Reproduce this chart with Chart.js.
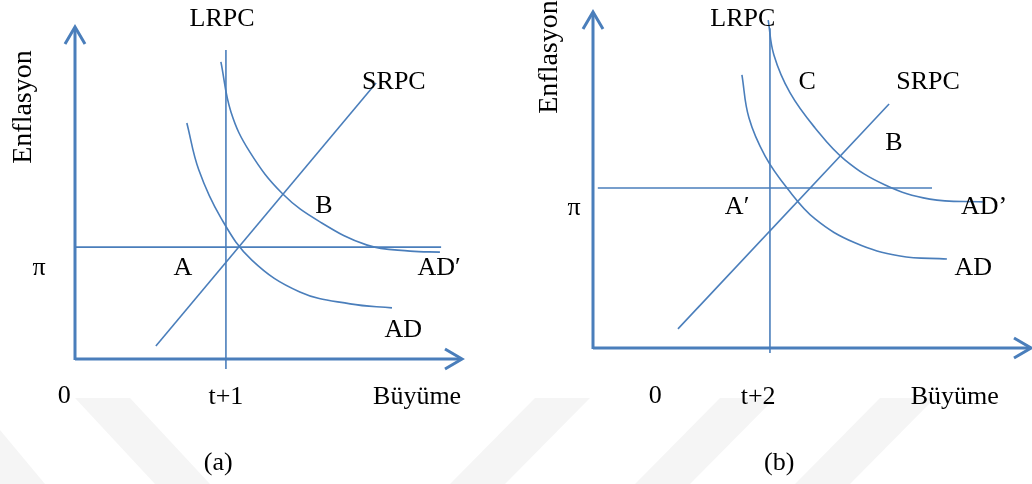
<!DOCTYPE html>
<html>
<head>
<meta charset="utf-8">
<script src="https://cdn.jsdelivr.net/npm/chart.js@4.4.1/dist/chart.umd.min.js"></script>
<style>
  body{margin:0;background:#fff;}
  #wrap{position:relative;width:1032px;height:484px;overflow:hidden;}
  .panel{position:absolute;top:0;width:516px;height:484px;}
  .band{position:absolute;left:0;top:0;width:1032px;height:484px;background:#f5f5f5;}
</style>
</head>
<body>
<div id="wrap">
  <div class="band" style="clip-path:polygon(75px 398px,130px 398px,210px 484px,155px 484px)"></div>
  <div class="band" style="clip-path:polygon(0px 430px,0px 484px,45px 484px)"></div>
  <div class="band" style="clip-path:polygon(535px 398px,590px 398px,505px 484px,450px 484px)"></div>
  <div class="band" style="clip-path:polygon(720px 398px,775px 398px,690px 484px,635px 484px)"></div>
  <div class="band" style="clip-path:polygon(880px 398px,935px 398px,850px 484px,795px 484px)"></div>
  <div class="panel" style="left:0"><canvas id="chart-a"></canvas></div>
  <div class="panel" style="left:516px"><canvas id="chart-b"></canvas></div>
</div>
<script>
const BLUE = '#4a7ebb';
const FONT = '"Liberation Serif", "Times New Roman", serif';

// panel (a): growth (x) vs inflation (y), 0..10 units
const aAdX  = [2.89,3.20,3.77,4.57,5.81,7.11,8.19];
const aAdY  = [7.11,5.69,4.25,2.98,2.02,1.66,1.54];
const aAd2X = [3.77,4.03,4.52,5.37,6.33,7.55,8.66,9.43];
const aAd2Y = [8.95,7.44,6.23,4.97,4.13,3.43,3.25,3.22];
const aSrpcX = [2.09,7.78];
const aSrpcY = [0.39,8.31];
const aLrpcX = [3.90,3.90];
const aLrpcY = [-0.30,9.31];
const aPiX = [0,9.46];
const aPiY = [3.37,3.37];

// panel (b)
const bAdX  = [3.40,3.56,3.93,4.43,5.07,5.98,7.01,8.08];
const bAdY  = [8.13,6.85,5.71,4.76,3.84,3.13,2.74,2.65];
const bAd2X = [4.00,4.13,4.50,5.07,5.75,6.67,7.69,8.90];
const bAd2Y = [9.76,8.72,7.59,6.55,5.60,4.85,4.43,4.35];
const bSrpcX = [1.94,6.76];
const bSrpcY = [0.57,7.26];
const bLrpcX = [4.04,4.04];
const bLrpcY = [-0.15,9.52];
const bPiX = [0.11,7.74];
const bPiY = [4.76,4.76];

// text labels (in data units)
const aLabels = [
  {t:'LRPC', x:3.80, y:10.24}, {t:'SRPC', x:8.24, y:8.34}, {t:'B', x:6.43, y:4.61},
  {t:'A', x:2.79, y:2.74}, {t:'π', x:-0.93, y:2.74}, {t:'AD′', x:9.41, y:2.74},
  {t:'AD', x:8.48, y:0.87}, {t:'0', x:-0.28, y:-1.11}, {t:'t+1', x:3.90, y:-1.14},
  {t:'Büyüme', x:8.84, y:-1.14}, {t:'(a)', x:3.70, y:-3.13},
  {t:'Enflasyon', x:-1.34, y:7.59, rot:true}
];
const bLabels = [
  {t:'LRPC', x:3.42, y:9.79}, {t:'C', x:4.89, y:7.92}, {t:'SRPC', x:7.65, y:7.92},
  {t:'B', x:6.87, y:6.10}, {t:'π', x:-0.43, y:4.17}, {t:'A′', x:3.29, y:4.20},
  {t:'AD’', x:8.93, y:4.20}, {t:'AD', x:8.68, y:2.38}, {t:'0', x:1.42, y:-1.43},
  {t:'t+2', x:3.77, y:-1.46}, {t:'Büyüme', x:8.26, y:-1.46}, {t:'(b)', x:4.25, y:-3.42},
  {t:'Enflasyon', x:-0.98, y:8.66, rot:true}
];

const pts = (xs, ys) => xs.map((x,i)=>({x, y:ys[i]}));

function line(data, curve){
  return {data, borderColor:BLUE, borderWidth:1.6, pointRadius:0, showLine:true,
    fill:false, clip:false, tension: curve ? 0.4 : 0};
}

const diagram = {
  id:'diagram',
  beforeDatasetsDraw(chart){
    const {ctx, scales:{x, y}} = chart;
    const x0 = x.getPixelForValue(0), y0 = y.getPixelForValue(0);
    const x1 = x.getPixelForValue(10), y1 = y.getPixelForValue(10);
    ctx.save();
    ctx.strokeStyle = BLUE; ctx.lineWidth = 3; ctx.lineCap = 'butt';
    ctx.beginPath();
    ctx.moveTo(x0, y0+1); ctx.lineTo(x0, y1+1);
    ctx.moveTo(x0, y0); ctx.lineTo(x1-1, y0);
    ctx.stroke();
    ctx.lineJoin = 'miter';
    ctx.beginPath();
    ctx.moveTo(x0-10, y1+17); ctx.lineTo(x0, y1); ctx.lineTo(x0+10, y1+17);
    ctx.moveTo(x1-17, y0-10); ctx.lineTo(x1, y0); ctx.lineTo(x1-17, y0+10);
    ctx.stroke();
    ctx.restore();
  },
  afterDatasetsDraw(chart, args, opts){
    const {ctx, scales:{x, y}} = chart;
    ctx.save();
    ctx.fillStyle = '#000';
    ctx.textAlign = 'center'; ctx.textBaseline = 'middle';
    opts.items.forEach(l=>{
      const px = x.getPixelForValue(l.x), py = y.getPixelForValue(l.y);
      if(l.rot){
        ctx.save();
        ctx.translate(px, py); ctx.rotate(-Math.PI/2);
        ctx.font = '28px ' + FONT;
        ctx.fillText(l.t, 0, 0);
        ctx.restore();
      } else {
        ctx.font = '26px ' + FONT;
        ctx.fillText(l.t, px, py);
      }
    });
    ctx.restore();
  }
};

function makeChart(id, sets, labels, padding){
  return new Chart(document.getElementById(id), {
    type:'scatter',
    data:{datasets:sets},
    options:{
      responsive:true, maintainAspectRatio:false, animation:false, events:[],
      layout:{padding},
      scales:{
        x:{type:'linear', min:0, max:10, display:false},
        y:{type:'linear', min:0, max:10, display:false}
      },
      plugins:{legend:{display:false}, tooltip:{enabled:false}, diagram:{items:labels}}
    },
    plugins:[diagram]
  });
}

makeChart('chart-a', [
  line(pts(aLrpcX, aLrpcY)), line(pts(aPiX, aPiY)), line(pts(aSrpcX, aSrpcY)),
  line(pts(aAdX, aAdY), true), line(pts(aAd2X, aAd2Y), true)
], aLabels, {left:75, right:54, top:27, bottom:125});

makeChart('chart-b', [
  line(pts(bLrpcX, bLrpcY)), line(pts(bPiX, bPiY)), line(pts(bSrpcX, bSrpcY)),
  line(pts(bAdX, bAdY), true), line(pts(bAd2X, bAd2Y), true)
], bLabels, {left:77, right:1, top:12, bottom:136});
</script>
</body>
</html>
